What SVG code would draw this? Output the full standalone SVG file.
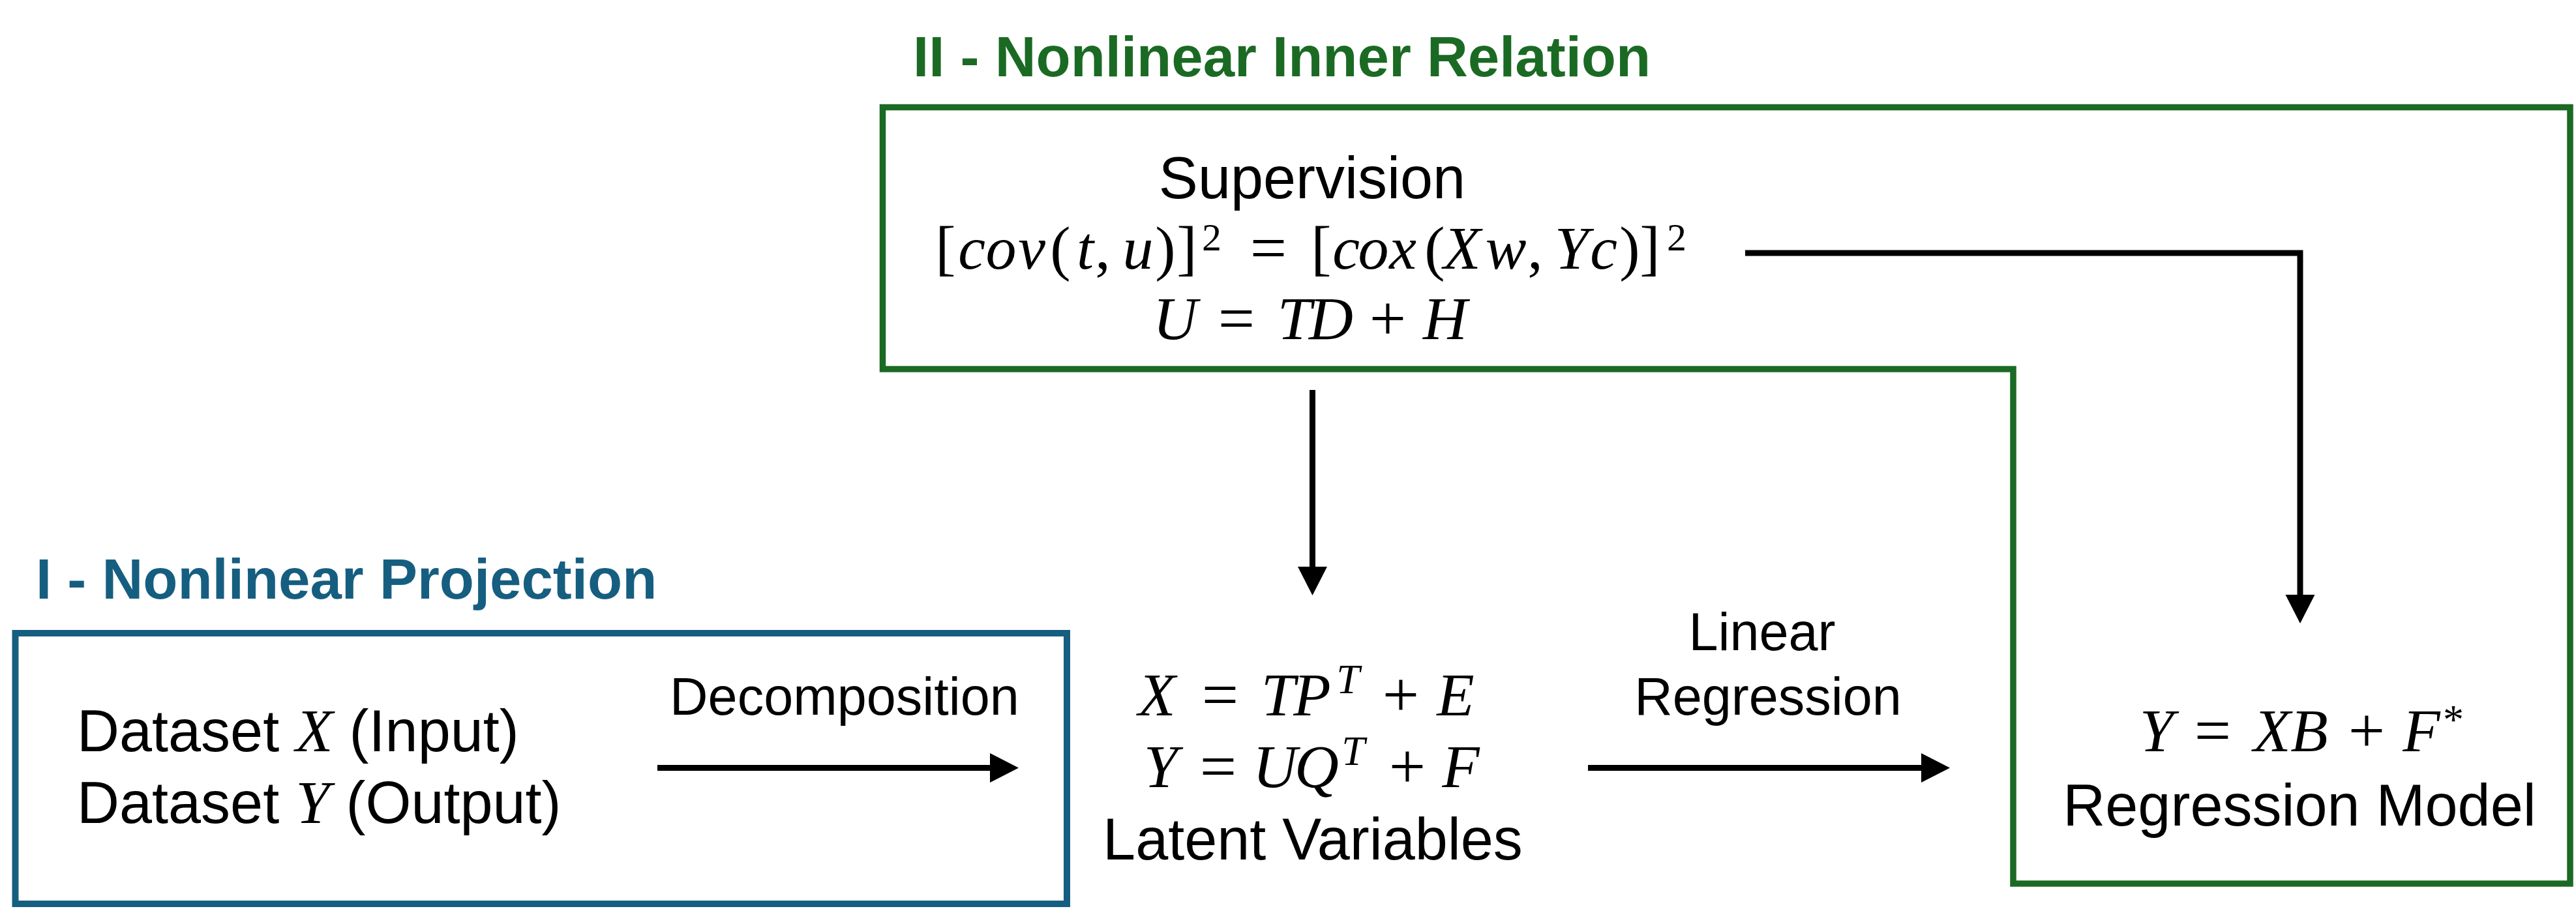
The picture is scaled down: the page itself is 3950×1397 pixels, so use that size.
<svg xmlns="http://www.w3.org/2000/svg" width="3950" height="1397" viewBox="0 0 3950 1397">
<style>
.t{font-family:"Liberation Sans",Arial,sans-serif;font-size:90px;fill:#000}
.lbl{font-family:"Liberation Sans",Arial,sans-serif;font-size:81px;fill:#000}
.ttl{font-family:"Liberation Sans",Arial,sans-serif;font-size:87px;font-weight:bold}
.m{font-family:"Liberation Serif","Times New Roman",serif;font-size:94px;fill:#000}
.i{font-style:italic}
.op{font-size:100px}
.sup{font-size:64px}
.sup2{font-size:60px}
.conn{fill:none;stroke:#000;stroke-width:9}
</style>
<defs>
<marker id="ah" markerUnits="userSpaceOnUse" markerWidth="46" markerHeight="46" refX="0" refY="22.5" orient="auto" overflow="visible">
<path d="M0,0 L44,22.5 L0,45 Z" fill="#000"/>
</marker>
</defs>
<rect width="3950" height="1397" fill="#fff"/>

<g id="group-nonlinear-projection">
<rect x="23.5" y="971" width="1612.5" height="415" fill="none" stroke="#165E80" stroke-width="10"/>
<text class="ttl" x="55" y="918" fill="#165E80">I - Nonlinear Projection</text>
</g>

<g id="group-inner-relation">
<path d="M1353.5,164.5 H3941 V1355 H3087 V566 H1353.5 Z" fill="none" stroke="#1B6A24" stroke-width="9.5"/>
<text class="ttl" x="1400" y="117" fill="#1B6A24">II - Nonlinear Inner Relation</text>
</g>

<g id="node-dataset">
<text class="t" x="118" y="1152">Dataset <tspan class="m i">X</tspan> (Input)</text>
<text class="t" x="118" y="1262">Dataset <tspan class="m i">Y</tspan> (Output)</text>
</g>

<g id="node-supervision">
<text class="t" x="2012" y="304" text-anchor="middle">Supervision</text>
<text class="m" y="412" text-anchor="middle"><tspan x="1450">[</tspan><tspan x="1490" class="i">c</tspan><tspan x="1535" class="i">o</tspan><tspan x="1582" class="i">v</tspan><tspan x="1626">(</tspan><tspan x="1664" class="i">t</tspan><tspan x="1691">,</tspan><tspan x="1745" class="i">u</tspan><tspan x="1787">)</tspan><tspan x="1820">]</tspan><tspan x="1858" y="384" class="sup2">2</tspan><tspan x="1945" y="414" class="op">=</tspan><tspan x="2026" y="412">[</tspan><tspan x="2064" class="i">c</tspan><tspan x="2106" class="i">o</tspan><tspan x="2151" class="i">x</tspan><tspan x="2200">(</tspan><tspan x="2242" class="i">X</tspan><tspan x="2309" class="i">w</tspan><tspan x="2354">,</tspan><tspan x="2410" class="i">Y</tspan><tspan x="2459" class="i">c</tspan><tspan x="2499">)</tspan><tspan x="2530">]</tspan><tspan x="2571" y="384" class="sup2">2</tspan></text>
<text class="m" y="520" text-anchor="middle"><tspan x="1802" class="i">U</tspan><tspan x="1896" y="522" class="op">=</tspan><tspan x="1985" y="520" class="i">T</tspan><tspan x="2041" class="i">D</tspan><tspan x="2128" y="522" class="op">+</tspan><tspan x="2216" y="520" class="i">H</tspan></text>
</g>

<g id="node-latent">
<text class="m" y="1097" text-anchor="middle"><tspan x="1774" class="i">X</tspan><tspan x="1871" y="1099" class="op">=</tspan><tspan x="1960" y="1097" class="i">T</tspan><tspan x="2012" class="i">P</tspan><tspan x="2067" y="1063" class="i sup">T</tspan><tspan x="2148" y="1099" class="op">+</tspan><tspan x="2232" y="1097" class="i">E</tspan></text>
<text class="m" y="1207" text-anchor="middle"><tspan x="1780" class="i">Y</tspan><tspan x="1868" y="1209" class="op">=</tspan><tspan x="1955" y="1207" class="i">U</tspan><tspan x="2019" class="i">Q</tspan><tspan x="2075" y="1173" class="i sup">T</tspan><tspan x="2158" y="1209" class="op">+</tspan><tspan x="2240" y="1207" class="i">F</tspan></text>
<text class="t" x="2013" y="1318" text-anchor="middle">Latent Variables</text>
</g>

<g id="node-regression-model">
<text class="m" y="1152" text-anchor="middle"><tspan x="3307" class="i">Y</tspan><tspan x="3393" y="1154" class="op">=</tspan><tspan x="3484" y="1152" class="i">X</tspan><tspan x="3541" class="i">B</tspan><tspan x="3629" y="1154" class="op">+</tspan><tspan x="3713" y="1152" class="i">F</tspan><tspan x="3762" y="1125" class="sup">*</tspan></text>
<text class="t" x="3526" y="1266" text-anchor="middle">Regression Model</text>
</g>

<g id="connectors">
<line class="conn" x1="1008" y1="1177.5" x2="1518" y2="1177.5" marker-end="url(#ah)"/>
<text class="lbl" x="1295" y="1096" text-anchor="middle">Decomposition</text>
<line class="conn" x1="2435" y1="1177.5" x2="2946" y2="1177.5" marker-end="url(#ah)"/>
<text class="lbl" x="2702" y="997" text-anchor="middle">Linear</text>
<text class="lbl" x="2711" y="1096" text-anchor="middle">Regression</text>
<line class="conn" x1="2012.5" y1="598" x2="2012.5" y2="869" marker-end="url(#ah)"/>
<path class="conn" d="M2676,388 H3527 V912" marker-end="url(#ah)"/>
</g>
</svg>
